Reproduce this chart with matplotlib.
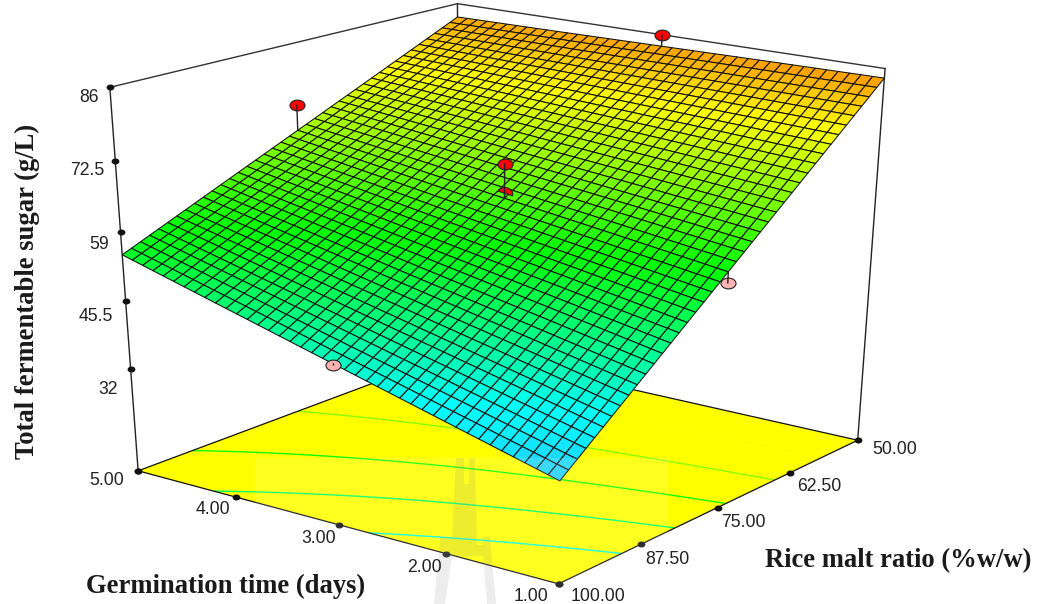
import numpy as np
import matplotlib
matplotlib.use('Agg')
import matplotlib.pyplot as plt
from matplotlib.colors import LinearSegmentedColormap, Normalize
from matplotlib.patches import Polygon, Rectangle
from matplotlib.path import Path
from matplotlib.transforms import Affine2D

W, H = 1039, 604

germ_ticks = [1, 2, 3, 4, 5]
rice_ticks = [50, 62.5, 75, 87.5, 100]
z_ticks = [86, 72.5, 59, 45.5, 32]
z_floor = 10.9

# surface height read at the tick crossings, one row per rice ratio
z_rice_50 = [84.2, 84.0, 83.75, 83.5, 83.3]
z_rice_62 = [70.85, 72.2, 73.5, 74.8, 76.1]
z_rice_75 = [57.5, 60.4, 63.2, 66.1, 68.95]
z_rice_87 = [44.15, 48.6, 52.95, 57.4, 61.8]
z_rice_100 = [30.8, 36.75, 42.7, 48.65, 54.6]

# design points
pt_germ = [5, 3, 3, 3, 3, 1]
pt_rice = [75, 50, 75, 75, 100, 75]
pt_z = [73.9, 85.9, 69.8, 64.2, 42.5, 55.4]
contour_levels = [41, 50, 59, 68, 77]

# camera: axis points, where they land on the picture, and a weight
calib = [(5, 100, 86, 110, 85, 2), (5, 50, 86, 458, 9, 2), (1, 50, 86, 885, 66, 2),
         (5, 100, 0, 135, 468, 3), (1, 100, 0, 558, 584, 3), (1, 50, 0, 862, 437, 3), (5, 50, 0, 458, 352, 2),
         (5, 100, 72.5, 115, 158, 1), (5, 100, 59, 119, 231, 1), (5, 100, 45.5, 124, 304, 1), (5, 100, 32, 129, 377, 1),
         (4, 100, 0, 241, 497, 2), (3, 100, 0, 347, 526, 2), (2, 100, 0, 452, 555, 2),
         (1, 87.5, 0, 634, 547, 2), (1, 75, 0, 710, 511, 2), (1, 62.5, 0, 786, 474, 2)]


def solve_camera(zf):
    P = None
    for it in range(6):
        rows = []
        for g, r, z, u, v, wt in calib:
            X = np.array([g / 5, r / 100, (z if z else zf) / 86, 1])
            sw = wt if P is None else wt / abs(P[2] @ X)
            u, v = u / 1000, v / 1000
            rows.append(sw * np.r_[X, 0, 0, 0, 0, -u * X])
            rows.append(sw * np.r_[0, 0, 0, 0, X, -v * X])
        P = np.linalg.svd(np.array(rows))[2][-1].reshape(3, 4)
    Q = np.diag([1000, 1000, 1]) @ P @ np.diag([1 / 5, 1 / 100, 1 / 86, 1])
    return Q / Q[2, 3]


P = solve_camera(z_floor)
M = np.array([P[0], P[1], [1, -0.08, 0, 0], P[2]])

plt.rcParams['font.family'] = ['Liberation Sans', 'DejaVu Sans']
fig = plt.figure(figsize=(W / 100, H / 100), dpi=100)
ax = fig.add_axes([0, 0, 1, 1], projection='3d', computed_zorder=False)
ax.apply_aspect = lambda position=None: None
ax.set_proj_type('ortho')
ax.get_proj = lambda: M
ax.viewLim.intervalx = (0, W)
ax.viewLim.intervaly = (H, 0)
ax.set_axis_off()

rainbow = LinearSegmentedColormap.from_list('de', ['#6475ff', '#00ffff', '#00ff00', '#ffff00', '#ff0000'])
znorm = Normalize(19, 96)

# mesh lines between the read crossings
n = 40
g_mesh = np.linspace(1, 5, n + 1)
r_mesh = np.linspace(50, 100, n + 1)
z_table = np.array([z_rice_50, z_rice_62, z_rice_75, z_rice_87, z_rice_100])
z_g = np.array([np.interp(g_mesh, germ_ticks, row) for row in z_table])
z_mesh = np.array([np.interp(r_mesh, rice_ticks, col) for col in z_g.T]).T
G, R = np.meshgrid(g_mesh, r_mesh)

floor_g, floor_r = np.meshgrid([1, 5], [50, 100])
ax.plot_surface(floor_g, floor_r, np.full((2, 2), z_floor), color='#ffff00', shade=False, linewidth=0, zorder=1)
ax.contour(G, R, z_mesh, levels=contour_levels, zdir='z', offset=z_floor,
           colors=[rainbow(znorm(l)) for l in contour_levels], linewidths=1.0, zorder=2)

for g, r in [(1, 50), (5, 100), (5, 50)]:
    ax.plot([g, g], [r, r], [z_floor, 86], color='#222222', lw=1.0, zorder=3)
ax.plot([5, 5, 1], [100, 50, 50], [86, 86, 86], color='#333333', lw=1.0, zorder=3)
ax.plot([5, 1, 1, 5, 5], [100, 100, 50, 50, 100], [z_floor] * 5, color='#111111', lw=0.9, zorder=3)

ax.plot_surface(G, R, z_mesh, cmap=rainbow, norm=znorm, rstride=1, cstride=1, shade=False,
                edgecolor='#101010', linewidth=0.75, zorder=5)

ellipse = Path.unit_circle().transformed(Affine2D().scale(1, 0.72))
dome = Path.wedge(0, 180).transformed(Affine2D().scale(1, 0.8).rotate_deg(-18))
tick_style = dict(ls='none', marker=ellipse, ms=4.6, color='#111111', zorder=4)
ax.plot([5] * 6, [100] * 6, z_ticks + [z_floor], **tick_style)
ax.plot(germ_ticks, [100] * 5, [z_floor] * 5, **tick_style)
ax.plot([1] * 5, rice_ticks, [z_floor] * 5, **tick_style)

z_surf = lambda g, r: z_mesh[np.argmin(abs(r_mesh - r)), np.argmin(abs(g_mesh - g))]
for i in range(len(pt_z)):
    g, r, z = pt_germ[i], pt_rice[i], pt_z[i]
    face = '#ffb3b3' if z < z_surf(g, r) else '#ff0000'
    mk = dome if i == 3 else ellipse
    ax.plot([g], [r], [z], ls='none', marker=mk, ms=10.8, mfc=face, mec='#222222', mew=0.8, zorder=6)
    ax.plot([g, g], [r, r], [z, z_surf(g, r)], color='#222222', lw=1.0, zorder=7)


def label(x, y, s, ha='center', **kw):
    fig.text(x / W, 1 - (y + 1.5) / H, s, ha=ha, va='center', **kw)


tick_kw = dict(fontsize=12.7, color='#222222', family='Liberation Sans')
for s, x, y in [('86', 99, 96), ('72.5', 104, 169), ('59', 109, 243), ('45.5', 113, 315), ('32', 118, 388),
                ('5.00', 124, 479), ('4.00', 230, 508), ('3.00', 336, 537), ('2.00', 442, 566),
                ('1.00', 548, 595)]:
    label(x, y, s, ha='right', **tick_kw)
for s, x, y in [('100.00', 571, 595), ('87.50', 645, 558), ('75.00', 721, 521), ('62.50', 797, 485), ('50.00', 872, 448)]:
    label(x, y, s, ha='left', **tick_kw)
title_kw = dict(fontsize=19.2, fontweight='bold', color='#1a1a1a', family='Liberation Serif')
label(226, 585, 'Germination time (days)', **title_kw)
label(898, 559, 'Rice malt ratio (%w/w)', **title_kw)
label(27, 290, 'Total fermentable sugar (g/L)', rotation=90, **title_kw)


# pale watermark over the lower part
def px(points):
    return [(x / W, 1 - y / H) for x, y in points]


fig.add_artist(Rectangle((255 / W, 0), 413 / W, 146 / H, transform=fig.transFigure, fc='white', alpha=0.13, lw=0))
fig.add_artist(Polygon(px([(456, 458), (464, 458), (464, 484), (469, 484), (469, 458), (475, 458), (477, 545),
                           (483, 545), (483, 537), (490, 537), (496, 604), (487, 604), (483, 556), (452, 556),
                           (445, 604), (434, 604), (440, 537), (452, 537)]),
                       transform=fig.transFigure, fc='#808080', alpha=0.14, lw=0))

fig.savefig('out.png', dpi=100)
